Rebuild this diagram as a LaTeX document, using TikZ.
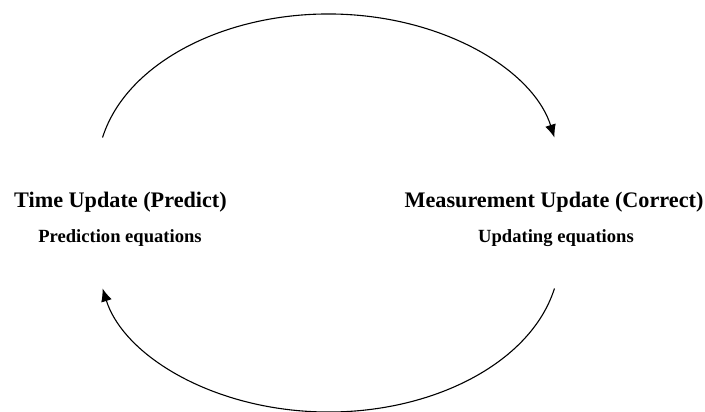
\documentclass[tikz,border=0pt]{standalone}
\usepackage{fontspec}
\setmainfont{Liberation Serif}
\usetikzlibrary{arrows.meta,calc}
\begin{document}
\begin{tikzpicture}[x=1pt,y=1pt]
      \useasboundingbox (0,0) rectangle (705,412);
      \coordinate (ct) at (328.5,242);
      \coordinate (cb) at (328.5,156);
      \coordinate (ts) at ($(ct)+(168:231 and 156)$);
      \coordinate (ms) at ($(cb)+(-12:231 and 156)$);
      \node[anchor=base, font=\fontsize{22.2}{26}\selectfont\bfseries] (time) at (120.5,204) {Time Update (Predict)};
      \node[anchor=base, font=\fontsize{18.6}{22}\selectfont\bfseries] (timeeq) at (120,169) {Prediction equations};
      \node[anchor=base, font=\fontsize{22.2}{26}\selectfont\bfseries] (meas) at (554,204) {Measurement Update (Correct)};
      \node[anchor=base, font=\fontsize{18.6}{22}\selectfont\bfseries] (measeq) at (556,169) {Updating equations};
      \draw[line width=1.1pt, -{Latex[length=13pt,width=11pt]}] (ts) arc[start angle=168, end angle=12, x radius=231, y radius=156];
      \draw[line width=1.1pt, -{Latex[length=13pt,width=11pt]}] (ms) arc[start angle=-12, end angle=-168, x radius=231, y radius=156];
    \end{tikzpicture}
\end{document}
